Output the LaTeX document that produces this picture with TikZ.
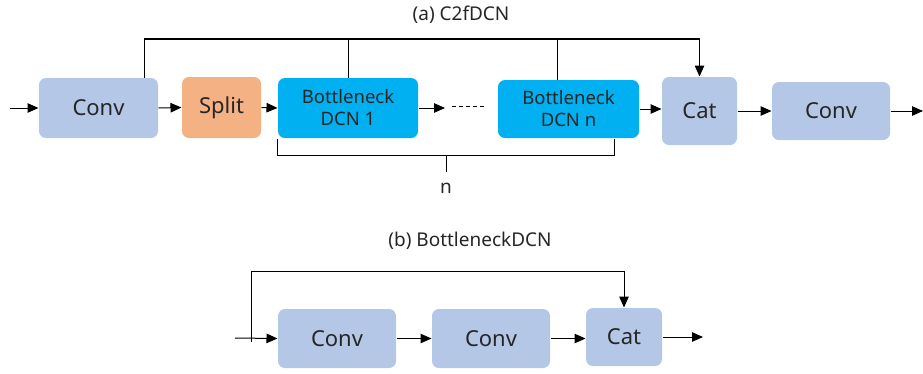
\documentclass[tikz,border=0pt]{standalone}
\usepackage{fontspec}
\setmainfont{Noto Sans}
\usetikzlibrary{positioning,arrows.meta}
\definecolor{convblue}{HTML}{B4C7E7}
\definecolor{splitorange}{HTML}{F4B183}
\definecolor{dcnblue}{HTML}{00B0F0}
\definecolor{txtgray}{HTML}{262626}

\begin{document}
\begin{tikzpicture}[
  x=1pt,y=-1pt,
  line width=1pt,
  >={Triangle[length=11pt,width=9.5pt]},
  blk/.style={rounded corners=7pt,inner sep=0pt,align=center,
    text=txtgray,font=\fontsize{22}{26}\selectfont},
  conv/.style={blk,fill=convblue},
  split/.style={blk,fill=splitorange},
  dcn/.style={blk,fill=dcnblue,font=\fontsize{18.5}{22}\selectfont},
  title/.style={text=txtgray,font=\fontsize{19}{23}\selectfont}
]
\useasboundingbox (0,0) rectangle (923,373);
% (a) C2fDCN
\node[title] (titleA) at (461,15) {(a) C2fDCN};
\node[conv,minimum width=119pt,minimum height=60pt] (conv1) at (98.5,108) {Conv};
\node[split,minimum width=79pt,minimum height=61pt] (split) at (221.5,107.5) {Split};
\node[dcn,minimum width=140pt,minimum height=60pt] (bn1) at (348,108) {Bottleneck\\DCN 1};
\node[dcn,minimum width=141pt,minimum height=58pt] (bnn) at (568.5,109) {Bottleneck\\DCN n};
\node[conv,minimum width=75pt,minimum height=68pt] (cat) at (699.5,111) {Cat};
\node[conv,minimum width=118pt,minimum height=58pt] (conv2) at (831,111) {Conv};
\coordinate (in) at (10,108);
\coordinate (out) at (923,111);
\coordinate (gap) at (445,108);
\coordinate (dotsL) at (452,106);
\coordinate (dotsR) at (484,106);
\coordinate (skip) at (0,39);
\draw[->] (in) -- (conv1.west);
\draw[->] (conv1.east) -- (split.west);
\draw[->] (split.east) -- (bn1.west);
\draw[->] (bn1.east) -- (gap);
\draw[dashed,dash pattern=on 4pt off 3pt] (dotsL) -- (dotsR);
\draw[->] (bnn.east) -- (bnn.east -| cat.west);
\draw[->] (cat.east) -- (conv2.west);
\draw[->] (conv2.east) -- (out);
% shortcut to Cat
\draw[->,line width=1.3pt] ([xshift=-14pt]conv1.north east) |- (skip -| cat.north) -- (cat.north);
\draw (bn1.north) -- (bn1.north |- skip);
\draw ([xshift=-11pt]bnn.north) -- ([xshift=-11pt]bnn.north |- skip);
% n repeats
\draw (bn1.south west) -- ++(0,17) coordinate (braceL) -| ([xshift=-25pt]bnn.south east);
\coordinate (braceM) at (446,155);
\draw (braceM) -- ++(0,17);
\node[title] (nlabel) at (446,188) {n};
% (b) BottleneckDCN
\node[title] (titleB) at (470,241) {(b) BottleneckDCN};
\node[conv,minimum width=118pt,minimum height=59pt] (bconv1) at (337,338.5) {Conv};
\node[conv,minimum width=118pt,minimum height=59pt] (bconv2) at (491,338.5) {Conv};
\node[conv,minimum width=76pt,minimum height=58pt] (bcat) at (624,337) {Cat};
\coordinate (bin) at (235,338);
\coordinate (btap) at (251,342);
\coordinate (bskip) at (0,271);
\coordinate (bout) at (703,337);
\draw[->] (bin) -- (bconv1.west);
\draw[->] (btap) |- (bskip -| bcat.north) -- (bcat.north);
\draw[->] (bconv1.east) -- (bconv2.west);
\draw[->] (bconv2.east) -- (bconv2.east -| bcat.west);
\draw[->] (bcat.east) -- (bout);
\end{tikzpicture}
\end{document}
